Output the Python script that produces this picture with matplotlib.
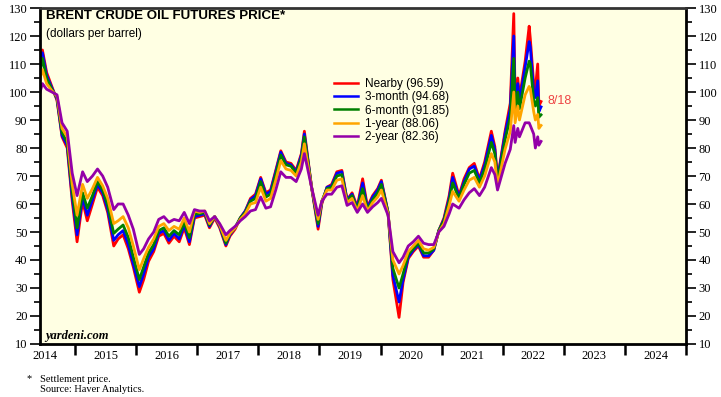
import matplotlib
matplotlib.use("Agg")
import matplotlib.pyplot as plt
import pandas as pd
import numpy as np

dates = [
    "2014-06-06", "2014-06-20", "2014-07-15", "2014-08-15", "2014-09-15", "2014-10-15", "2014-11-15", "2014-12-15",
    "2015-01-13", "2015-02-15", "2015-03-15", "2015-04-15", "2015-05-15", "2015-06-15",
    "2015-07-15", "2015-08-20", "2015-09-15", "2015-10-15", "2015-11-15", "2015-12-15",
    "2016-01-20", "2016-02-15", "2016-03-15", "2016-04-15", "2016-05-15", "2016-06-15",
    "2016-07-15", "2016-08-15", "2016-09-15", "2016-10-15", "2016-11-15", "2016-12-15",
    "2017-01-15", "2017-02-15", "2017-03-15", "2017-04-15", "2017-05-15", "2017-06-21",
    "2017-07-15", "2017-08-15", "2017-09-15", "2017-10-15", "2017-11-15", "2017-12-15",
    "2018-01-15", "2018-02-15", "2018-03-15", "2018-04-15", "2018-05-15", "2018-06-15",
    "2018-07-15", "2018-08-15", "2018-09-15", "2018-10-03", "2018-11-15", "2018-12-24",
    "2019-01-15", "2019-02-15", "2019-03-15", "2019-04-15", "2019-05-15", "2019-06-15",
    "2019-07-15", "2019-08-15", "2019-09-16", "2019-10-15", "2019-11-15", "2019-12-15",
    "2020-01-06", "2020-02-15", "2020-03-15", "2020-04-21", "2020-05-15", "2020-06-15",
    "2020-07-15", "2020-08-15", "2020-09-15", "2020-10-15", "2020-11-15", "2020-12-15",
    "2021-01-15", "2021-02-15", "2021-03-08", "2021-04-15", "2021-05-15", "2021-06-15",
    "2021-07-15", "2021-08-15", "2021-09-15", "2021-10-25", "2021-11-15", "2021-12-01",
    "2022-01-15", "2022-02-15", "2022-03-08", "2022-03-16", "2022-04-01", "2022-04-11",
    "2022-05-15", "2022-06-08", "2022-06-15", "2022-07-05", "2022-07-15", "2022-07-29",
    "2022-08-05", "2022-08-18",
]

nearby = [
    109, 115, 107, 102, 97, 84, 80, 61,
    46.5, 61, 54, 60, 66, 63,
    57, 45, 47.5, 49, 44, 37.5,
    28.5, 33, 39.5, 43, 48.5, 49.5,
    46, 48.5, 46.5, 51.5, 45.5, 55,
    55.5, 56, 51.5, 55, 51.5, 45,
    48.5, 51, 55, 57.5, 62, 63.5,
    69.5, 64, 65, 72, 79, 75,
    74.5, 72, 78, 86, 66, 51,
    60, 66, 67, 71.5, 72, 61.5,
    64, 59, 69, 59, 63, 65.5,
    68.5, 57, 33, 19.5, 32, 40.5,
    43, 45, 41, 41, 43.5, 50.5,
    55, 63, 71, 63, 69, 73,
    74.5, 69, 75, 86, 80.5, 69,
    86, 96, 128, 98, 105, 98,
    111, 123.5, 119, 103, 101, 110,
    95, 96.59,
]

month3 = [
    108, 114, 106, 101.5, 97.5, 84.5, 81, 62.5,
    49, 62.5, 56, 61.5, 67, 64,
    58, 47, 49, 50.5, 45.5, 38.5,
    30.5, 35, 41, 44, 49.5, 50.5,
    47, 49.5, 47.5, 52.5, 46.5, 55.5,
    56, 56.5, 52, 55.5, 52, 45.5,
    49, 51.5, 55, 57.5, 61.5, 63,
    69, 63.5, 64.5, 71.5, 78.5, 74.5,
    74, 71.5, 77.5, 85, 66, 52,
    60.5, 66, 66.5, 71, 71.5, 61.5,
    63.5, 58.5, 67.5, 58.5, 62.5, 65,
    68, 57, 34.5, 25, 33, 41,
    43.5, 45.5, 41.5, 41.5, 43.5, 50.5,
    54.5, 62, 69.5, 62.5, 68, 72.5,
    73.5, 68.5, 74, 84.5, 79.5, 68.5,
    85, 94, 120, 96, 103, 96.5,
    109, 118, 116, 100, 98, 104,
    93, 94.68,
]

month6 = [
    107, 112, 105, 101, 98, 85.5, 82, 64.5,
    51.5, 64, 58.5, 63, 68, 65,
    59.5, 49.5, 51, 52.5, 48, 41,
    33, 37.5, 42.5, 45.5, 50.5, 51.5,
    48.5, 50.5, 49, 53.5, 48, 56.5,
    56.5, 57, 52.5, 55.5, 52.5, 46,
    49.5, 51.5, 55, 57, 61, 62,
    68, 62.5, 63.5, 70.5, 77.5, 74,
    73.5, 71, 76.5, 84, 66, 53,
    61, 65.5, 66, 70, 70.5, 61,
    63, 58, 65.5, 58, 61.5, 64,
    67, 57, 37, 30, 35, 42,
    44, 46, 42.5, 42.5, 44, 50.5,
    54, 61, 67.5, 62, 67, 71,
    72, 67.5, 72.5, 82, 78, 68,
    83, 91, 112, 93, 100, 94,
    105, 111, 110, 97, 95, 98,
    91, 91.85,
]

year1 = [
    105, 108, 103, 100.5, 98.5, 87, 84, 67,
    56, 67, 62, 65.5, 69.5, 66.5,
    62, 53, 54, 55.5, 51.5, 45,
    36.5, 40.5, 44.5, 47.5, 52, 53,
    50.5, 52, 51, 55, 50, 57.5,
    57, 57.5, 53, 55.5, 52.5, 47,
    49.5, 51.5, 54.5, 56.5, 60, 60.5,
    66, 61, 62, 68.5, 75.5, 72.5,
    72, 70, 75, 81.5, 66, 54.5,
    61, 65, 65, 68.5, 69, 60.5,
    62, 57.5, 63, 57.5, 60.5, 62.5,
    65, 56.5, 40, 35, 38, 43,
    45, 47, 44, 43.5, 44.5, 50,
    53, 59.5, 64.5, 61, 65, 68.5,
    69.5, 66, 70, 78, 75, 66.5,
    79.5, 86, 100, 89, 95, 90,
    99, 102, 101, 93, 90, 92,
    87, 88.06,
]

year2 = [
    100, 103, 101, 100, 99, 89, 86, 71,
    63, 71.5, 68, 70, 72.5, 70,
    66, 58, 60, 60, 56, 51,
    42, 44, 47.5, 50, 54.5, 55.5,
    53.5, 54.5, 54, 57, 53, 58,
    57.5, 57.5, 54, 55.5, 53, 49,
    50.5, 52, 54, 55.5, 57.5, 58,
    62.5, 58.5, 59, 65, 71.5, 69.5,
    69.5, 68, 72.5, 78, 66, 56,
    61, 63.5, 63.5, 66, 66.5, 59.5,
    60.5, 57, 60, 57, 59, 60.5,
    62, 56, 43, 39, 41, 45,
    46.5, 48.5, 46, 45.5, 45.5, 50,
    52, 56.5, 60, 58.5, 61.5, 64,
    65.5, 63, 66, 73, 70.5, 65,
    74.5, 79.5, 88, 82, 87, 84,
    89, 89, 88, 85, 80, 84,
    81, 82.36,
]

series_names = ["Nearby", "3-month", "6-month", "1-year", "2-year"]
series_values = [nearby, month3, month6, year1, year2]
series_colors = ["#FF0000", "#0000FF", "#008000", "#FFA500", "#9400A8"]
latest_labels = ["96.59", "94.68", "91.85", "88.06", "82.36"]
year_labels = [str(y) for y in range(2014, 2025)]


def to_decimal_year(ds):
    d = pd.DatetimeIndex(pd.to_datetime(ds))
    doy = np.asarray(d.dayofyear, dtype=float) - 1
    ndays = np.where(np.asarray(d.is_leap_year), 366.0, 365.0)
    return np.asarray(d.year, dtype=float) + doy / ndays


xs = to_decimal_year(dates)

fig = plt.figure(figsize=(7.21, 3.97), dpi=100)
ax = fig.add_axes([40 / 721, 1 - 344 / 397, 646 / 721, 336 / 397])
ax.set_facecolor("#FFFFE3")

for name, vals, col, lab in zip(series_names, series_values, series_colors, latest_labels):
    ax.plot(xs, vals, color=col, lw=2.0, label=f"{name} ({lab})")

ax.set_xlim(2014.426, 2025.0)
ax.set_ylim(10, 130)

serif = "Liberation Serif"
sans = "Liberation Sans"

# y axis
ax.set_yticks(np.arange(10, 131, 10))
ax.set_yticks(np.arange(15, 130, 10), minor=True)
ax.tick_params(axis="y", which="major", direction="out", length=7, width=1.2,
               left=True, right=True, labelleft=True, labelright=True,
               labelsize=9, pad=2, colors="black")
ax.tick_params(axis="y", which="minor", direction="out", length=4, width=1.2,
               left=True, right=True)
for t in ax.get_yticklabels():
    t.set_fontfamily(serif)

# x axis: year boundaries as major ticks, labels centred at mid-year
ax.set_xticks(np.arange(2015, 2026, 1))
ax.set_xticklabels([])
ax.set_xticks(np.arange(2014.5, 2025, 1), minor=True)
ax.set_xticklabels(year_labels, minor=True, fontfamily=serif, fontsize=9)
ax.tick_params(axis="x", which="major", direction="out", length=8, width=1.8)
ax.tick_params(axis="x", which="minor", length=0, pad=4)

for side in ["left", "bottom", "right", "top"]:
    ax.spines[side].set_linewidth(2)
    ax.spines[side].set_color("black")
ax.spines["top"].set_color("#333333")

fig.text(46 / 721, 1 - 16 / 397, "BRENT CRUDE OIL FUTURES PRICE*", fontfamily=sans,
         fontweight="bold", fontsize=9.6, va="center", ha="left")
fig.text(46 / 721, 1 - 34 / 397, "(dollars per barrel)", fontfamily=sans,
         fontsize=8.5, va="center", ha="left")

leg = ax.legend(loc="upper left", bbox_to_anchor=((326 - 40) / 646, (344 - 69.5) / 336),
                frameon=False, prop={"family": sans, "size": 8.5},
                handlelength=2.0, handletextpad=0.6, labelspacing=0.12, borderpad=0.2)
for h in leg.get_lines():
    h.set_linewidth(1.8)

fig.text(548 / 721, 1 - 101 / 397, "8/18", fontsize=9, color="#EE4444",
         fontfamily=sans, va="center", ha="left")

fig.text(45 / 721, 1 - 336 / 397, "yardeni.com", fontfamily=serif, fontweight="bold",
         fontstyle="italic", fontsize=9, va="center", ha="left")

fig.text(27 / 721, 1 - 379 / 397, "*", fontfamily=serif, fontsize=7.5, va="center", ha="left")
fig.text(40 / 721, 1 - 379 / 397, "Settlement price.", fontfamily=serif, fontsize=7.5,
         va="center", ha="left")
fig.text(40 / 721, 1 - 389 / 397, "Source: Haver Analytics.", fontfamily=serif, fontsize=7.5,
         va="center", ha="left")

fig.savefig("out.png", dpi=100)
